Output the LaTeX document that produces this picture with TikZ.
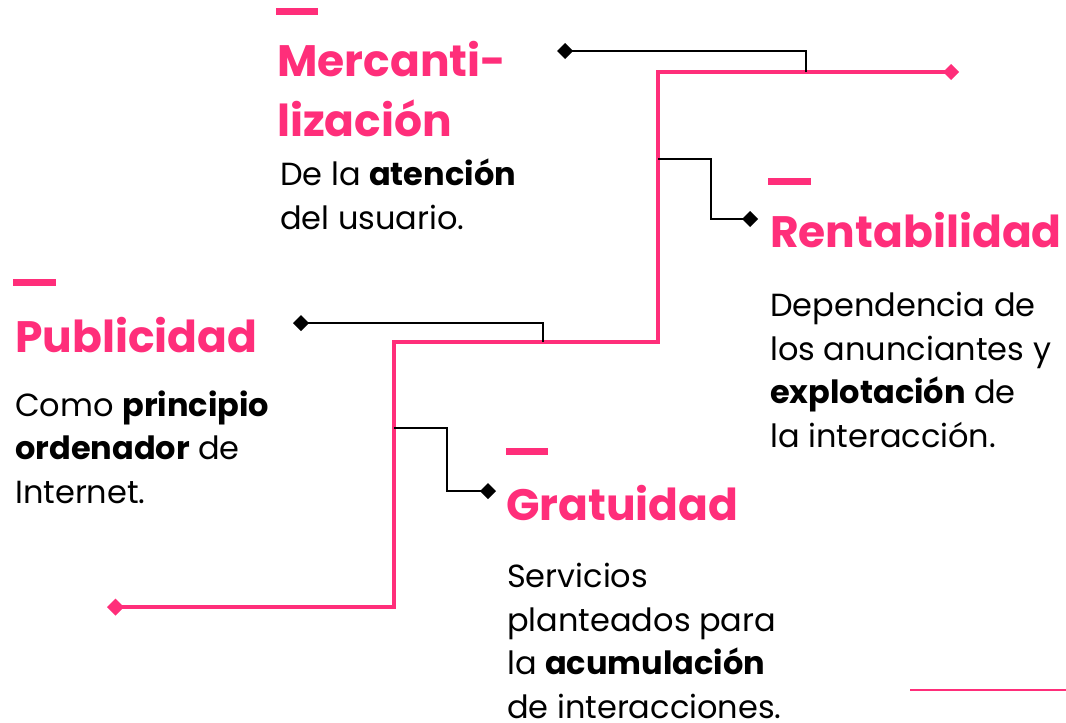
\documentclass[tikz,border=0pt]{standalone}
\usepackage{fontspec}
\setmainfont{Poppins}
\usetikzlibrary{arrows.meta}
\definecolor{rosa}{RGB}{255,46,122}

\begin{document}
\begin{tikzpicture}[x=1pt,y=-1pt,
    spine/.style={rosa,line width=3.5pt},
    branch/.style={black,line width=2pt},
    tick/.style={rosa,line width=7pt},
    title/.style={anchor=base west,inner sep=0pt,text=rosa,align=left,
      font=\fontsize{44}{60}\selectfont\bfseries},
    body/.style={anchor=base west,inner sep=0pt,align=left,
      font=\fontsize{32}{43.5}\selectfont}]
    \useasboundingbox (0,0) rectangle (1066,723);
    % spine
    \coordinate (s0) at (107,607);
    \coordinate (s1) at (394,342);
    \coordinate (s2) at (658,72);
    \coordinate (s3) at (959,72);
    \draw [spine,{Diamond[length=17pt,width=17pt]}-{Diamond[length=16pt,width=16pt]}] (s0) -| (s1) -| (s2) -- (s3);
    % branches
    \coordinate (b1) at (543,342);
    \coordinate (d1) at (293,323);
    \coordinate (b2) at (806,72);
    \coordinate (d2) at (557,51);
    \coordinate (b3) at (658,159);
    \coordinate (d3) at (758,219);
    \coordinate (b4) at (394,428);
    \coordinate (d4) at (496,491);
    \draw [branch,-{Diamond[length=16pt,width=16pt]}] (b1) |- (d1);
    \draw [branch,-{Diamond[length=16pt,width=16pt]}] (b2) |- (d2);
    \draw [branch,-{Diamond[length=16pt,width=16pt]}] (b3) -- ++(53,0) |- (d3);
    \draw [branch,-{Diamond[length=16pt,width=16pt]}] (b4) -- ++(53,0) |- (d4);
    % titles and texts (anchored at the baseline of the last line)
    \draw [tick] (276,11) -- (318,11);
    \node [title] (merc) at (277,136) {Mercanti-\\lización};
    \node [body] (merctxt) at (280,229) {De la \textbf{atención}\\del usuario.};
    \draw [tick] (768,181) -- (811,181);
    \node [title] (rent) at (770,247) {Rentabilidad};
    \node [body] (renttxt) at (770,447) {Dependencia de\\los anunciantes y\\\textbf{explotación} de\\la interacción.};
    \draw [tick] (13,282) -- (56,282);
    \node [title] (publ) at (15,352) {Publicidad};
    \node [body] (publtxt) at (15,503) {Como \textbf{principio}\\\textbf{ordenador} de\\Internet.};
    \draw [tick] (506,451) -- (548,451);
    \node [title] (grat) at (506,520) {Gratuidad};
    \node [body] (grattxt) at (507,718) {Servicios\\planteados para\\la \textbf{acumulación}\\de interacciones.};
    \draw [rosa,line width=2pt] (910,690) -- (1066,690);
\end{tikzpicture}
\end{document}
